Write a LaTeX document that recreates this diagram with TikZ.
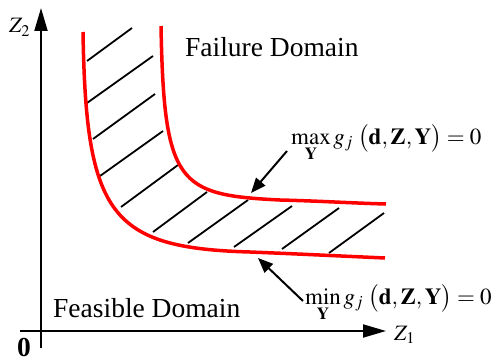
\documentclass[tikz,border=0pt]{standalone}
\usepackage{mathptmx}
\usepackage{fontspec}
\setmainfont{Liberation Serif}
\usetikzlibrary{arrows.meta}
\begin{document}
\begin{tikzpicture}[x=1pt,y=-1pt,
  redcurve/.style={draw=red, line width=3.5pt},
  hatch/.style={line width=1.8pt},
  axisline/.style={line width=2pt, -{Triangle[length=23pt,width=13pt]}},
  pointer/.style={line width=2pt, -{Triangle[length=15pt,width=12pt]}},
  lbl/.style={inner sep=0pt, anchor=base west},
  bigtext/.style={font=\fontsize{27.5}{30}\selectfont},
  axistext/.style={font=\fontsize{22}{26}\selectfont},
  mathtext/.style={font=\fontsize{23}{27}\selectfont},
]
\useasboundingbox (0,0) rectangle (501,361);
% axes
\coordinate (yb) at (41,348);
\coordinate (yt) at (41,8);
\coordinate (xl) at (20,331);
\coordinate (xr) at (386,331);
\draw[axisline] (yb) -- (yt);
\draw[axisline] (xl) -- (xr);
% hatch lines
\foreach \ax/\ay/\bx/\by [count=\i] in {87/61/132/28, 87/103/153/56, 93/139/155/94, 100/176/163/131,
  121/207/178/165, 153/232/207/192, 188/243/248/200, 234/247/292/206, 282/249/339/208, 329/253/384/213}{
  \coordinate (h\i a) at (\ax,\ay);
  \coordinate (h\i b) at (\bx,\by);
  \draw[hatch] (h\i a) -- (h\i b);
}
% red limit-state curves
\draw[redcurve] (161,26) .. controls (164,185) and (178,195) .. (280,200)
  .. controls (320,201) and (350,203) .. (386,204);
\draw[redcurve] (83,32) .. controls (86,215) and (110,248) .. (250,252)
  .. controls (300,254) and (340,256) .. (385,258);
% texts
\node[lbl, bigtext] (fail) at (185,57) {Failure Domain};
\node[lbl, bigtext] (feas) at (53,317) {Feasible Domain};
\node[lbl, bigtext] (zero) at (17,356) {\textbf{0}};
\node[lbl, axistext] (z2) at (9,33) {$Z_2$};
\node[lbl, axistext] (z1) at (394,340) {$Z_1$};
\node[lbl, mathtext] (maxl) at (291,144) {$\displaystyle\max_{\mathbf{Y}} g_j\;\bigl(\mathbf{d},\mathbf{Z},\mathbf{Y}\bigr)=0$};
\node[lbl, mathtext] (minl) at (305,304) {$\displaystyle\min_{\mathbf{Y}} g_j\;\bigl(\mathbf{d},\mathbf{Z},\mathbf{Y}\bigr)=0$};
% pointers
\coordinate (maxtail) at (287,151);
\coordinate (maxtip) at (251,193);
\coordinate (mintail) at (303,301);
\coordinate (mintip) at (258,258);
\draw[pointer] (maxtail) -- (maxtip);
\draw[pointer] (mintail) -- (mintip);
\end{tikzpicture}
\end{document}
